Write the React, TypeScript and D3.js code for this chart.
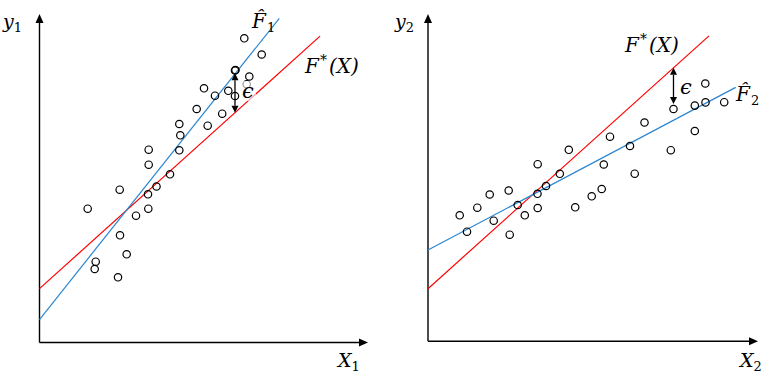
import React from 'react';
import * as d3 from 'd3';

// ---- Data (value space 0..10 on each axis) ----
const leftX = [1.467, 1.711, 1.680, 2.390, 2.451, 2.654, 2.441, 2.938, 3.312, 3.303, 3.562, 3.324, 3.324, 3.973, 4.256, 4.286, 4.256, 5.120, 4.785, 5.562, 5.008, 5.342, 5.747, 5.951, 5.951, 5.966, 6.387, 6.307, 6.234, 6.764];
const leftY = [4.073, 2.460, 2.237, 1.985, 3.263, 2.685, 4.651, 3.860, 4.073, 4.511, 4.749, 5.412, 5.869, 5.120, 5.851, 6.307, 6.651, 6.600, 7.108, 6.965, 7.738, 7.513, 7.662, 7.504, 8.280, 8.295, 8.097, 7.863, 9.260, 8.767];

const rightX = [0.961, 1.182, 1.494, 1.870, 1.991, 2.445, 2.476, 2.718, 2.933, 3.318, 3.324, 3.324, 3.576, 3.994, 4.267, 4.461, 4.961, 5.264, 5.327, 5.515, 6.121, 6.264, 6.561, 7.358, 7.439, 8.085, 8.085, 8.409, 8.403, 8.976];
const rightY = [3.850, 3.349, 4.082, 4.485, 3.685, 4.607, 3.257, 4.164, 3.850, 4.507, 4.073, 5.411, 4.745, 5.118, 5.851, 4.094, 4.430, 4.653, 5.402, 6.251, 5.967, 5.121, 6.685, 5.839, 7.097, 7.201, 6.425, 7.299, 7.877, 7.305];

// lines: [intercept, slope], [xStart, xEnd]
const leftTrueCoef = [1.64, 0.90];
const leftTrueRange = [0, 8.54];
const leftFitCoef = [0.70, 1.256];
const leftFitRange = [0, 7.30];

const rightTrueCoef = [1.607, 0.907];
const rightTrueRange = [0, 8.515];
const rightFitCoef = [2.789, 0.533];
const rightFitRange = [0, 9.324];

// epsilon arrows: x, other end y (one end lies on the true line)
const leftEps = [5.951, 8.20];
const rightEps = [7.439, 7.25];

const RED = '#ff0000';
const BLUE = '#2a86d1';
const FONT = '"DejaVu Serif", serif';

type PanelProps = {
  x0: number; x1: number; y0: number; y1: number;
  xs: number[]; ys: number[];
  trueCoef: number[]; trueRange: number[];
  fitCoef: number[]; fitRange: number[];
  eps: number[];
};

function Panel(p: PanelProps) {
  const x = d3.scaleLinear().domain([0, 10]).range([p.x0, p.x1]);
  const y = d3.scaleLinear().domain([0, 10]).range([p.y0, p.y1]);
  const mk = (coef: number[], r: number[]) =>
    d3.line<[number, number]>().x((d) => x(d[0])).y((d) => y(d[1]))(
      r.map((v) => [v, coef[0] + coef[1] * v] as [number, number])
    ) || '';
  const epsTrue = p.trueCoef[0] + p.trueCoef[1] * p.eps[0];
  const ex = x(p.eps[0]);
  const ya = y(Math.max(epsTrue, p.eps[1]));
  const yb = y(Math.min(epsTrue, p.eps[1]));
  const ah = 7, aw = 3.5;
  return (
    <g>
      {/* axes */}
      <line x1={p.x0} y1={p.y0} x2={p.x1 - ah} y2={p.y0} stroke="#000" strokeWidth={1.4} />
      <path d={`M${p.x1},${p.y0} L${p.x1 - 9},${p.y0 - 4} L${p.x1 - 9},${p.y0 + 4} Z`} fill="#000" />
      <line x1={p.x0} y1={p.y0} x2={p.x0} y2={p.y1 + ah} stroke="#000" strokeWidth={1.4} />
      <path d={`M${p.x0},${p.y1} L${p.x0 - 4},${p.y1 + 9} L${p.x0 + 4},${p.y1 + 9} Z`} fill="#000" />
      {/* lines */}
      <path d={mk(p.trueCoef, p.trueRange)} stroke={RED} strokeWidth={1.2} fill="none" />
      <path d={mk(p.fitCoef, p.fitRange)} stroke={BLUE} strokeWidth={1.2} fill="none" />
      {/* points */}
      {p.xs.map((v, i) => (
        <circle key={i} cx={x(v)} cy={y(p.ys[i])} r={3.7} fill="none" stroke="#000" strokeWidth={1.2} />
      ))}
      {/* epsilon arrow */}
      <line x1={ex} y1={ya + ah} x2={ex} y2={yb - ah} stroke="#000" strokeWidth={1.3} />
      <path d={`M${ex},${ya} L${ex - aw},${ya + ah} L${ex + aw},${ya + ah} Z`} fill="#000" />
      <path d={`M${ex},${yb} L${ex - aw},${yb - ah} L${ex + aw},${yb - ah} Z`} fill="#000" />
    </g>
  );
}

export default function App() {
  const sub = { fontSize: 13, fontStyle: 'normal' as const };
  const star = { fontSize: 14, fontStyle: 'normal' as const };
  return (
    <svg width={766} height={382} style={{ position: 'absolute', left: 0, top: 0, background: '#fff' }}
      fontFamily={FONT}>
      <rect x={0} y={0} width={766} height={382} fill="#fff" />
      <Panel x0={39.5} x1={368} y0={342.5} y1={14}
        xs={leftX} ys={leftY}
        trueCoef={leftTrueCoef} trueRange={leftTrueRange}
        fitCoef={leftFitCoef} fitRange={leftFitRange}
        eps={leftEps} />
      <Panel x0={428} x1={758} y0={341.3} y1={14}
        xs={rightX} ys={rightY}
        trueCoef={rightTrueCoef} trueRange={rightTrueRange}
        fitCoef={rightFitCoef} fitRange={rightFitRange}
        eps={rightEps} />
      {/* fade behind left epsilon */}
      <rect x={241} y={81} width={15} height={20} fill="#fff" opacity={0.6} />
      <g fontStyle="italic" fontSize={19} fill="#000">
        <text x={3} y={28}>y<tspan dy={4} style={sub}>1</tspan></text>
        <text x={252} y={28} fontSize={20}>F̂<tspan dx={1} dy={4} style={sub}>1</tspan></text>
        <text x={305} y={73} fontSize={20}>F<tspan dx={1} dy={-8} style={star}>*</tspan><tspan dx={2} dy={8}>(X)</tspan></text>
        <text x={338} y={367}>X<tspan dy={4} style={sub}>1</tspan></text>
        <text x={248} y={98} textAnchor="middle" fontSize={21}>ϵ</text>

        <text x={395} y={28}>y<tspan dy={4} style={sub}>2</tspan></text>
        <text x={736} y={101} fontSize={20}>F̂<tspan dx={1} dy={4} style={sub}>2</tspan></text>
        <text x={625} y={52} fontSize={20}>F<tspan dx={1} dy={-8} style={star}>*</tspan><tspan dx={2} dy={8}>(X)</tspan></text>
        <text x={740} y={367}>X<tspan dy={4} style={sub}>2</tspan></text>
        <text x={686} y={94} textAnchor="middle" fontSize={21}>ϵ</text>
      </g>
    </svg>
  );
}
